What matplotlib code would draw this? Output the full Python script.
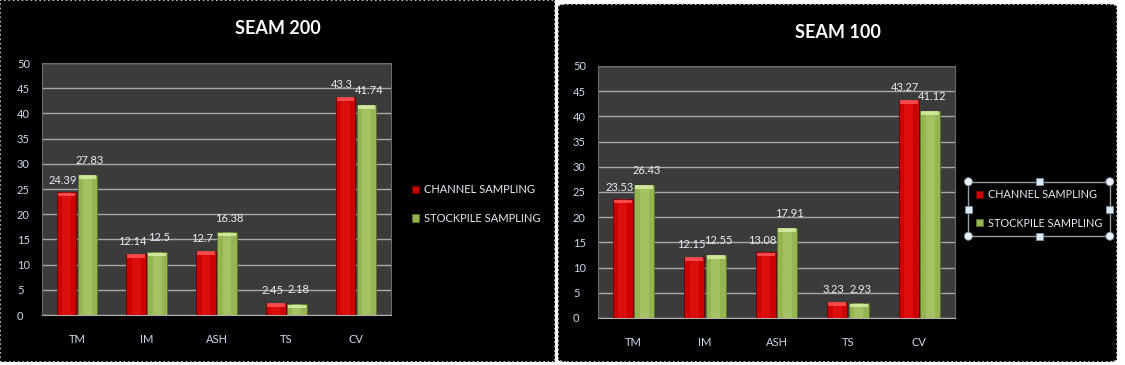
import matplotlib
matplotlib.use("Agg")
import matplotlib.pyplot as plt
from matplotlib.patches import Rectangle, FancyBboxPatch, Circle
import numpy as np

plt.rcParams['font.family'] = ['Lato', 'DejaVu Sans']

categories = ['TM', 'IM', 'ASH', 'TS', 'CV']
series_names = ['CHANNEL SAMPLING', 'STOCKPILE SAMPLING']

seam200_channel = [24.39, 12.14, 12.7, 2.45, 43.3]
seam200_stockpile = [27.83, 12.5, 16.38, 2.18, 41.74]
seam200_labels_ch = ['24.39', '12.14', '12.7', '2.45', '43.3']
seam200_labels_st = ['27.83', '12.5', '16.38', '2.18', '41.74']

seam100_channel = [23.53, 12.15, 13.08, 3.23, 43.27]
seam100_stockpile = [26.43, 12.55, 17.91, 2.93, 41.12]
seam100_labels_ch = ['23.53', '12.15', '13.08', '3.23', '43.27']
seam100_labels_st = ['26.43', '12.55', '17.91', '2.93', '41.12']

yticks = [0, 5, 10, 15, 20, 25, 30, 35, 40, 45, 50]

W, H = 1125, 365
fig = plt.figure(figsize=(W / 100, H / 100), dpi=100)
fig.patch.set_facecolor('white')

def px(x, y):
    # pixel coords (from top-left) -> figure fraction
    return x / W, 1 - y / H

# black panels (behind the axes)
x0, y0 = px(0, 362)
fig.patches.append(Rectangle((x0, y0), 555 / W, 362 / H, transform=fig.transFigure,
                             facecolor='black', edgecolor='#e0e0e0', linestyle=':', linewidth=1.2, zorder=-5))
x0, y0 = px(558, 362)
fig.patches.append(FancyBboxPatch((x0, y0), 559 / W, 358 / H, transform=fig.transFigure,
                                  boxstyle='round,pad=0,rounding_size=0.008',
                                  facecolor='black', edgecolor='#e0e0e0', linestyle=':', linewidth=1.2, zorder=-5))

red = '#cc0000'
red_mid = '#ff2a2a'
red_edge = '#700000'
red_top = '#ff5a5a'
green = '#94b552'
green_mid = '#c2dc86'
green_edge = '#5a742a'
green_top = '#dcf0a8'
tick_col = '#cdd9ee'
bw = 0.28

def draw_chart(rect, title, title_xy, ch, st, lab_ch, lab_st):
    ax = fig.add_axes(rect)
    ax.set_facecolor('#3b3b3b')
    x = np.arange(len(categories))
    xr = x - bw / 2 - 0.01
    xg = x + bw / 2 + 0.01
    b1 = ax.bar(xr, ch, bw, color=red, edgecolor=red_edge, linewidth=0.6, zorder=3)
    b2 = ax.bar(xg, st, bw, color=green, edgecolor=green_edge, linewidth=0.6, zorder=3)
    # lighter middle stripe, cylinder-like shading
    ax.bar(xr, ch, bw * 0.45, color=red_mid, linewidth=0, zorder=3.5, alpha=0.35)
    ax.bar(xg, st, bw * 0.45, color=green_mid, linewidth=0, zorder=3.5, alpha=0.35)
    # bevel highlight at the top of each bar
    ax.bar(xr, [0.7] * len(ch), bw * 0.9, bottom=np.array(ch) - 0.8,
           color=red_top, linewidth=0, zorder=4, alpha=0.8)
    ax.bar(xg, [0.7] * len(st), bw * 0.9, bottom=np.array(st) - 0.8,
           color=green_top, linewidth=0, zorder=4, alpha=0.8)
    for i in range(len(categories)):
        ax.text(xr[i] - 0.05, ch[i] + 1.3, lab_ch[i], ha='center', va='bottom',
                color='#e8eef8', fontsize=8, zorder=5)
        ax.text(xg[i] + 0.03, st[i] + 1.7, lab_st[i], ha='center', va='bottom',
                color='#e8eef8', fontsize=8, zorder=5)
    ax.set_xlim(-0.5, len(categories) - 0.5)
    ax.set_ylim(0, 50)
    ax.set_yticks(yticks)
    ax.set_xticks(x)
    ax.set_xticklabels(categories)
    ax.tick_params(axis='y', colors=tick_col, labelsize=8, length=0, pad=18)
    ax.tick_params(axis='x', colors=tick_col, labelsize=8, length=0, pad=14)
    for lbl in ax.get_yticklabels():
        lbl.set_ha('left')
    ax.grid(axis='y', color='#a8a8a8', linewidth=1, zorder=1)
    ax.set_axisbelow(True)
    for s in ax.spines.values():
        s.set_color('#6a6a6a')
    ax.spines['bottom'].set_color('#b0b0b0')
    tx, ty = px(*title_xy)
    fig.text(tx, ty, title, ha='center', va='center', color='white',
             fontsize=13, fontweight='bold')
    return ax, (b1, b2)

ax1, h1 = draw_chart([42 / W, 1 - 315 / H, 349 / W, 252 / H], 'SEAM 200', (278, 29),
                     seam200_channel, seam200_stockpile, seam200_labels_ch, seam200_labels_st)
ax2, h2 = draw_chart([598 / W, 1 - 318 / H, 357 / W, 252 / H], 'SEAM 100', (838, 32),
                     seam100_channel, seam100_stockpile, seam100_labels_ch, seam100_labels_st)

leg1 = fig.legend(h1, series_names, loc='center left', bbox_to_anchor=px(402, 204),
                  frameon=False, fontsize=8, labelcolor='#e6ecf6', handlelength=0.6,
                  handleheight=0.6, handletextpad=0.5, labelspacing=1.6)
leg2 = fig.legend(h2, series_names, loc='center left', bbox_to_anchor=px(963, 209),
                  frameon=True, fontsize=7.8, labelcolor='#e6ecf6', handlelength=0.6,
                  handleheight=0.6, handletextpad=0.5, labelspacing=1.6, fancybox=False,
                  borderpad=0.7)
leg2.get_frame().set_facecolor('black')
leg2.get_frame().set_edgecolor('#b8c4d0')
leg2.get_frame().set_linewidth(1)

# selection handles around the right legend
fig.canvas.draw()
bb = leg2.get_window_extent().transformed(fig.transFigure.inverted())
xs = [bb.x0, (bb.x0 + bb.x1) / 2, bb.x1]
ys = [bb.y0, (bb.y0 + bb.y1) / 2, bb.y1]
for i, hx in enumerate(xs):
    for j, hy in enumerate(ys):
        if i == 1 and j == 1:
            continue
        if i != 1 and j != 1:
            fig.patches.append(Circle((hx * W, hy * H), 4, transform=None,
                                      facecolor='#e8f0f8', edgecolor='#8090a0', linewidth=0.6, zorder=10))
        else:
            fig.patches.append(Rectangle((hx * W - 3.5, hy * H - 3.5), 7, 7, transform=None,
                                         facecolor='#d8ecf8', edgecolor='#8090a0', linewidth=0.6, zorder=10))

fig.savefig('out.png', dpi=100, facecolor='white')
